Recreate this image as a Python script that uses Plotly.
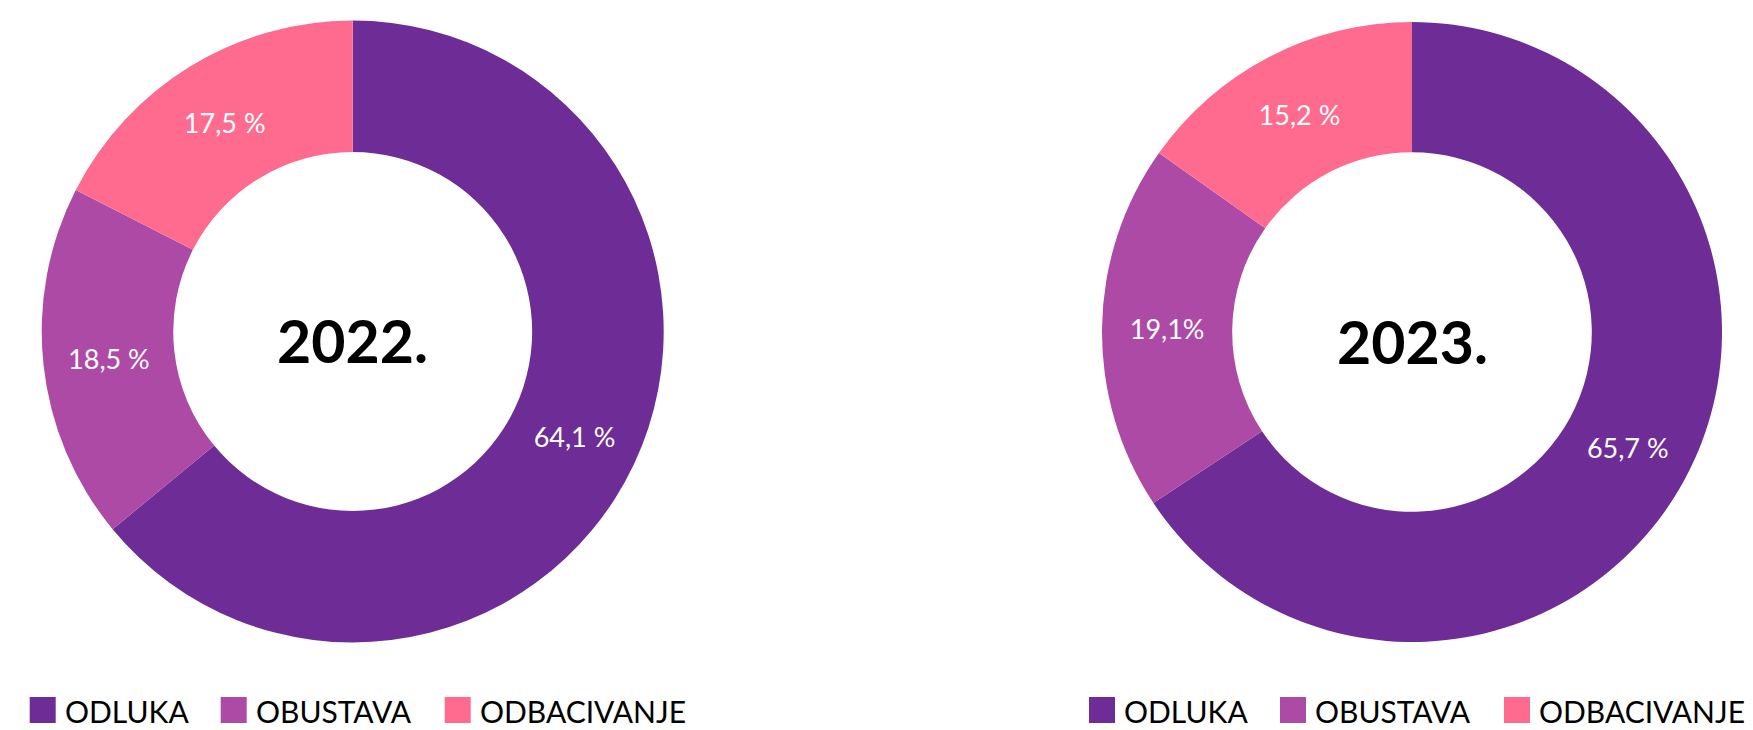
import plotly.graph_objects as go

# Case outcome categories and shares per year
categories = ["ODLUKA", "OBUSTAVA", "ODBACIVANJE"]
years = ["2022.", "2023."]
values_2022 = [64.1, 18.5, 17.5]
values_2023 = [65.7, 19.1, 15.2]
text_2022 = ["64,1 %", "18,5 %", "17,5 %"]
text_2023 = ["65,7 %", "19,1%", "15,2 %"]

colors = ["#6E2D96", "#AD4AA6", "#FF6B8E"]

W, H = 1753, 730
FONT = "Lato, 'Open Sans', sans-serif"


def px_x(x):
    return x / W


def px_y(y_top):
    return 1 - y_top / H


# pie centres / radii in pixels
pies = [
    dict(cx=352.7, cy=331.5, r=311, hole=0.577, values=values_2022, text=text_2022),
    dict(cx=1412, cy=332, r=310, hole=0.58, values=values_2023, text=text_2023),
]

fig = go.Figure()
for p, year in zip(pies, years):
    fig.add_trace(go.Pie(
        labels=categories,
        values=p["values"],
        text=p["text"],
        texttemplate="%{text}",
        textposition="inside",
        insidetextorientation="horizontal",
        textfont=dict(color="white", size=27, family=FONT),
        marker=dict(colors=colors, line=dict(width=0)),
        hole=p["hole"],
        sort=False,
        direction="clockwise",
        rotation=0,
        showlegend=False,
        hoverinfo="label+percent",
        domain=dict(
            x=[px_x(p["cx"] - p["r"]), px_x(p["cx"] + p["r"])],
            y=[px_y(p["cy"] + p["r"]), px_y(p["cy"] - p["r"])],
        ),
    ))

annotations = []
shapes = []
# year in the hole of each donut
for p, year in zip(pies, years):
    annotations.append(dict(
        text="<b>" + year + "</b>", x=px_x(p["cx"]), y=px_y(p["cy"] + 9),
        xref="paper", yref="paper", showarrow=False,
        font=dict(size=59, color="black", family=FONT),
        xanchor="center", yanchor="middle",
    ))

# legend rows below each donut (offsets relative to donut centre)
legend_offsets = [-323, -132, 92]
for p in pies:
    for name, col, off in zip(categories, colors, legend_offsets):
        x0 = p["cx"] + off
        shapes.append(dict(
            type="rect", xref="paper", yref="paper",
            x0=px_x(x0), x1=px_x(x0 + 26),
            y0=px_y(723), y1=px_y(697),
            fillcolor=col, line=dict(width=0),
        ))
        annotations.append(dict(
            text=name, x=px_x(x0 + 33), y=px_y(711),
            xref="paper", yref="paper", showarrow=False,
            font=dict(size=30, color="black", family=FONT),
            xanchor="left", yanchor="middle",
        ))

fig.update_layout(
    width=W, height=H,
    margin=dict(l=0, r=0, t=0, b=0),
    paper_bgcolor="white", plot_bgcolor="white",
    annotations=annotations, shapes=shapes,
    showlegend=False,
)

fig.write_html("out.html")
